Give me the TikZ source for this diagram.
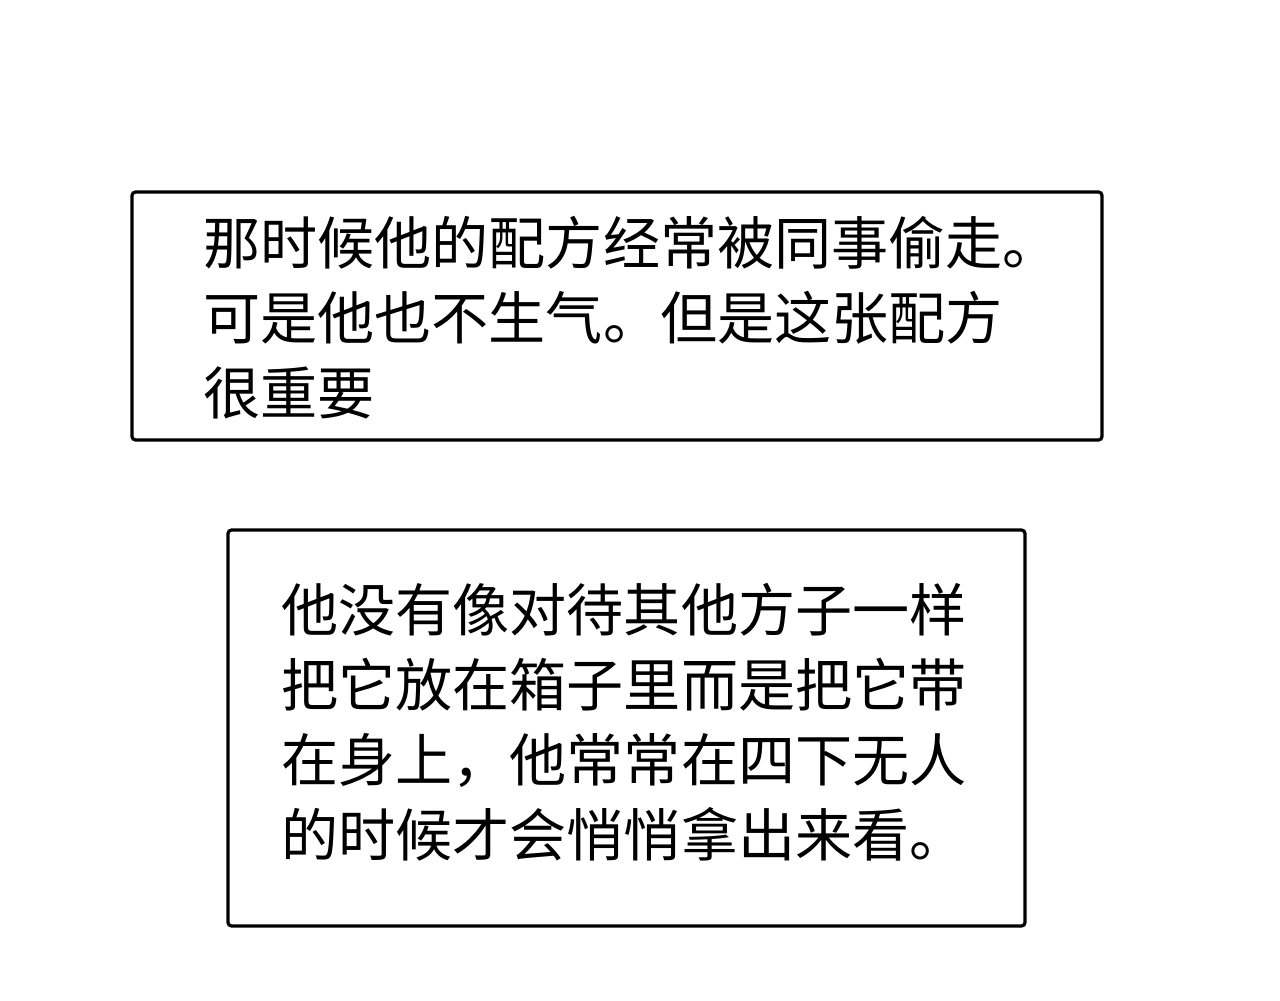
\documentclass[tikz,border=0pt]{standalone}
\usepackage{fontspec}
\newfontfamily\cjk{Noto Sans CJK SC}
\begin{document}
\begin{tikzpicture}[x=0.02cm,y=-0.02cm,
  panel/.style={draw=black,line width=3.2*0.02cm,rounded corners=2pt},
  txt/.style={anchor=north west,inner sep=0pt,align=left,font=\cjk\fontsize{32.5}{42.7}\selectfont}]
\useasboundingbox[fill=white] (0,0) rectangle (1280,1000);
\draw[panel] (132,192) rectangle (1102,440);
\coordinate (p1) at (132,192);
\draw[panel] (228,530) rectangle (1025,926);
\node[txt] (t1) at (203,216) {那时候他的配方经常被同事偷走。\\可是他也不生气。但是这张配方\\很重要};
\node[txt] (t2) at (281,583) {他没有像对待其他方子一样\\把它放在箱子里而是把它带\\在身上，他常常在四下无人\\的时候才会悄悄拿出来看。};
\end{tikzpicture}
\end{document}
